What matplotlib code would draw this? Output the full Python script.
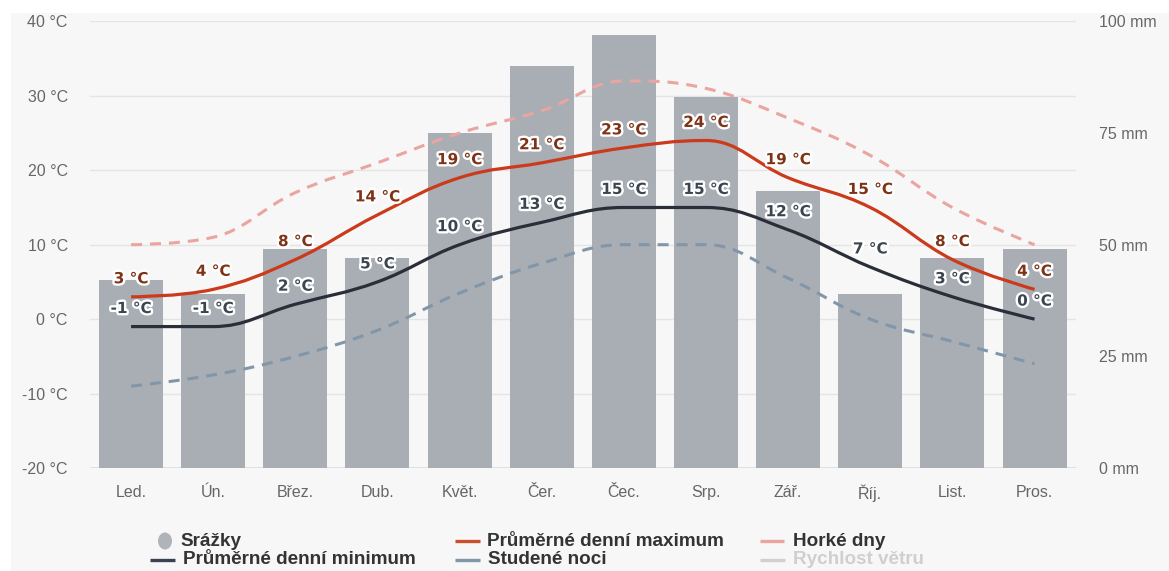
import matplotlib
matplotlib.use("Agg")
import matplotlib.pyplot as plt
from matplotlib.path import Path
from matplotlib.patches import PathPatch, Rectangle, Ellipse
from matplotlib.lines import Line2D
import matplotlib.patheffects as pe

# ---- data -------------------------------------------------------------
months = ['Led.', 'Ún.', 'Břez.', 'Dub.', 'Květ.', 'Čer.', 'Čec.', 'Srp.',
          'Zář.', 'Říj.', 'List.', 'Pros.']
precip_mm = [42, 39, 49, 47, 75, 90, 97, 83, 62, 39, 47, 49]
mean_max = [3, 4, 8, 14, 19, 21, 23, 24, 19, 15, 8, 4]
mean_min = [-1, -1, 2, 5, 10, 13, 15, 15, 12, 7, 3, 0]
hot_days = [10, 11, 17, 21, 25, 28, 32, 31, 27, 22, 15, 10]
cold_nights = [-9, -7.5, -5, -1.5, 3.5, 7.5, 10, 10, 5.5, 0, -3, -6]
temp_ticks = [-20, -10, 0, 10, 20, 30, 40]
mm_ticks = [0, 25, 50, 75, 100]

# ---- styling ----------------------------------------------------------
W, H = 1169, 571
TICK_FONT = ['Liberation Sans', 'DejaVu Sans']
LEG_FONT = ['Liberation Sans', 'DejaVu Sans']

BG = '#f7f7f7'
GRID = '#e4e4e4'
BAR = '#a9adb4'
MAX_C = '#cc3a1c'
MIN_C = '#2a2e38'
HOT_C = '#eba4a0'
COLD_C = '#8296a9'
MAX_LBL = '#7f3316'
MIN_LBL = '#3b4550'
TICK_C = '#666666'


def px(x, y):
    return x / W, 1 - y / H


def spline_path(xs, ys, smoothing=1.5):
    """Smooth curve through the points built from cubic Bezier segments."""
    n = len(xs)
    denom = smoothing + 1
    left, right = [None] * n, [None] * n
    for i in range(n):
        x, y = xs[i], ys[i]
        if 0 < i < n - 1:
            lx, ly = xs[i - 1], ys[i - 1]
            nx, ny = xs[i + 1], ys[i + 1]
            lcx = (smoothing * x + lx) / denom
            lcy = (smoothing * y + ly) / denom
            rcx = (smoothing * x + nx) / denom
            rcy = (smoothing * y + ny) / denom
            corr = ((rcy - lcy) * (rcx - x)) / (rcx - lcx) + y - rcy
            lcy += corr
            rcy += corr
            if lcy > ly and lcy > y:
                lcy = max(ly, y); rcy = 2 * y - lcy
            elif lcy < ly and lcy < y:
                lcy = min(ly, y); rcy = 2 * y - lcy
            if rcy > ny and rcy > y:
                rcy = max(ny, y); lcy = 2 * y - rcy
            elif rcy < ny and rcy < y:
                rcy = min(ny, y); lcy = 2 * y - rcy
            left[i], right[i] = (lcx, lcy), (rcx, rcy)
        else:
            left[i] = right[i] = (x, y)
    verts = [(xs[0], ys[0])]
    codes = [Path.MOVETO]
    for i in range(1, n):
        verts += [right[i - 1], left[i], (xs[i], ys[i])]
        codes += [Path.CURVE4] * 3
    return Path(verts, codes)


fig = plt.figure(figsize=(W / 100, H / 100), dpi=100, facecolor='white')
fig.add_artist(Rectangle(px(11, 571), 1, (571 - 13) / H, transform=fig.transFigure,
                         facecolor=BG, edgecolor='none', zorder=-10))

x0, x1, ytop, ybot = 90, 1075.6, 21.4, 468
rect = [x0 / W, 1 - ybot / H, (x1 - x0) / W, (ybot - ytop) / H]
xpos = list(range(len(months)))

# background axis: temperature scale and grid
ax = fig.add_axes(rect)
ax.set_facecolor('none')
ax.set_xlim(-0.5, len(months) - 0.5)
ax.set_ylim(temp_ticks[0], temp_ticks[-1])
ax.set_yticks(temp_ticks)
ax.set_yticklabels([f'{t} °C' for t in temp_ticks], fontfamily=TICK_FONT,
                   fontsize=11.5, color=TICK_C)
ax.set_xticks(xpos)
ax.set_xticklabels(months, fontfamily=TICK_FONT, fontsize=11.5, color=TICK_C)
ax.tick_params(axis='y', length=0, pad=16)
ax.tick_params(axis='x', length=0, pad=12)
ax.grid(axis='y', color=GRID, linewidth=1.0)
ax.set_axisbelow(True)
for s in ax.spines.values():
    s.set_visible(False)
ax.axhline(temp_ticks[0], color='#dcdcdc', linewidth=1.2, zorder=0.5)

# precipitation bars on the right-hand millimetre scale
axb = ax.twinx()
axb.set_ylim(mm_ticks[0], mm_ticks[-1])
axb.set_yticks(mm_ticks)
axb.set_yticklabels([f'{m} mm' for m in mm_ticks], fontfamily=TICK_FONT,
                    fontsize=11.5, color=TICK_C)
axb.tick_params(axis='y', length=0, pad=17)
axb.bar(xpos, precip_mm, width=0.78, color=BAR, zorder=1)
for s in axb.spines.values():
    s.set_visible(False)

# temperature curves
axl = ax.twinx()
axl.set_ylim(temp_ticks[0], temp_ticks[-1])
axl.set_yticks([])
for s in axl.spines.values():
    s.set_visible(False)


def curve(vals, color, lw, dashes=None, z=3):
    patch = PathPatch(spline_path(xpos, vals), facecolor='none', edgecolor=color,
                      linewidth=lw, zorder=z, capstyle='butt', joinstyle='round')
    if dashes:
        patch.set_linestyle((0, dashes))
    axl.add_patch(patch)


curve(hot_days, HOT_C, 2.2, dashes=(3.6, 2.6), z=2)
curve(cold_nights, COLD_C, 2.2, dashes=(3.6, 2.6), z=2)
curve(mean_min, MIN_C, 2.3, z=3)
curve(mean_max, MAX_C, 2.3, z=4)

halo = [pe.withStroke(linewidth=3.4, foreground='white')]
for xi, v in zip(xpos, mean_max):
    axl.annotate(f'{v} °C', (xi, v), xytext=(0, 13), textcoords='offset points',
                 ha='center', va='center', fontsize=11, fontweight='bold',
                 family='DejaVu Sans', color=MAX_LBL, path_effects=halo, zorder=6)
for xi, v in zip(xpos, mean_min):
    axl.annotate(f'{v} °C', (xi, v), xytext=(0, 13), textcoords='offset points',
                 ha='center', va='center', fontsize=11, fontweight='bold',
                 family='DejaVu Sans', color=MIN_LBL, path_effects=halo, zorder=6)

# legend
LEG_FS = 13.6
LEG_TC = '#333333'
fig.add_artist(Ellipse(px(165, 541), 14 / W, 17 / H, transform=fig.transFigure,
                       facecolor='#b0b3b9', edgecolor='none'))


def leg_line(xa, xb, y, color, dashes=None):
    (ax_, ay_), (bx_, by_) = px(xa, y), px(xb, y)
    ln = Line2D([ax_, bx_], [ay_, by_], transform=fig.transFigure, color=color,
                linewidth=2.4, solid_capstyle='butt', dash_capstyle='butt')
    if dashes:
        ln.set_dashes(dashes)
    fig.add_artist(ln)


def leg_text(x, y, s, color=LEG_TC):
    fig.text(*px(x, y), s, ha='left', va='center', fontsize=LEG_FS,
             fontweight='bold', family=LEG_FONT, color=color)


ROW1, ROW2 = 541, 560
leg_text(180, ROW1, 'Srážky')
leg_line(455, 480, ROW1, '#c8502a')
leg_text(487, ROW1, 'Průměrné denní maximum')
leg_line(760, 784, ROW1, HOT_C, dashes=(8, 4, 2.5, 4))
leg_text(793, ROW1, 'Horké dny')

leg_line(150, 175, ROW2, '#3a4252')
leg_text(183, ROW2, 'Průměrné denní minimum')
leg_line(455, 480, ROW2, COLD_C, dashes=(8, 4, 2.5, 4))
leg_text(488, ROW2, 'Studené noci')
leg_line(760, 785, ROW2, '#d0d0d0')
leg_text(793, ROW2, 'Rychlost větru', color='#cfcfcf')

fig.savefig('out.png', dpi=100, facecolor='white')
